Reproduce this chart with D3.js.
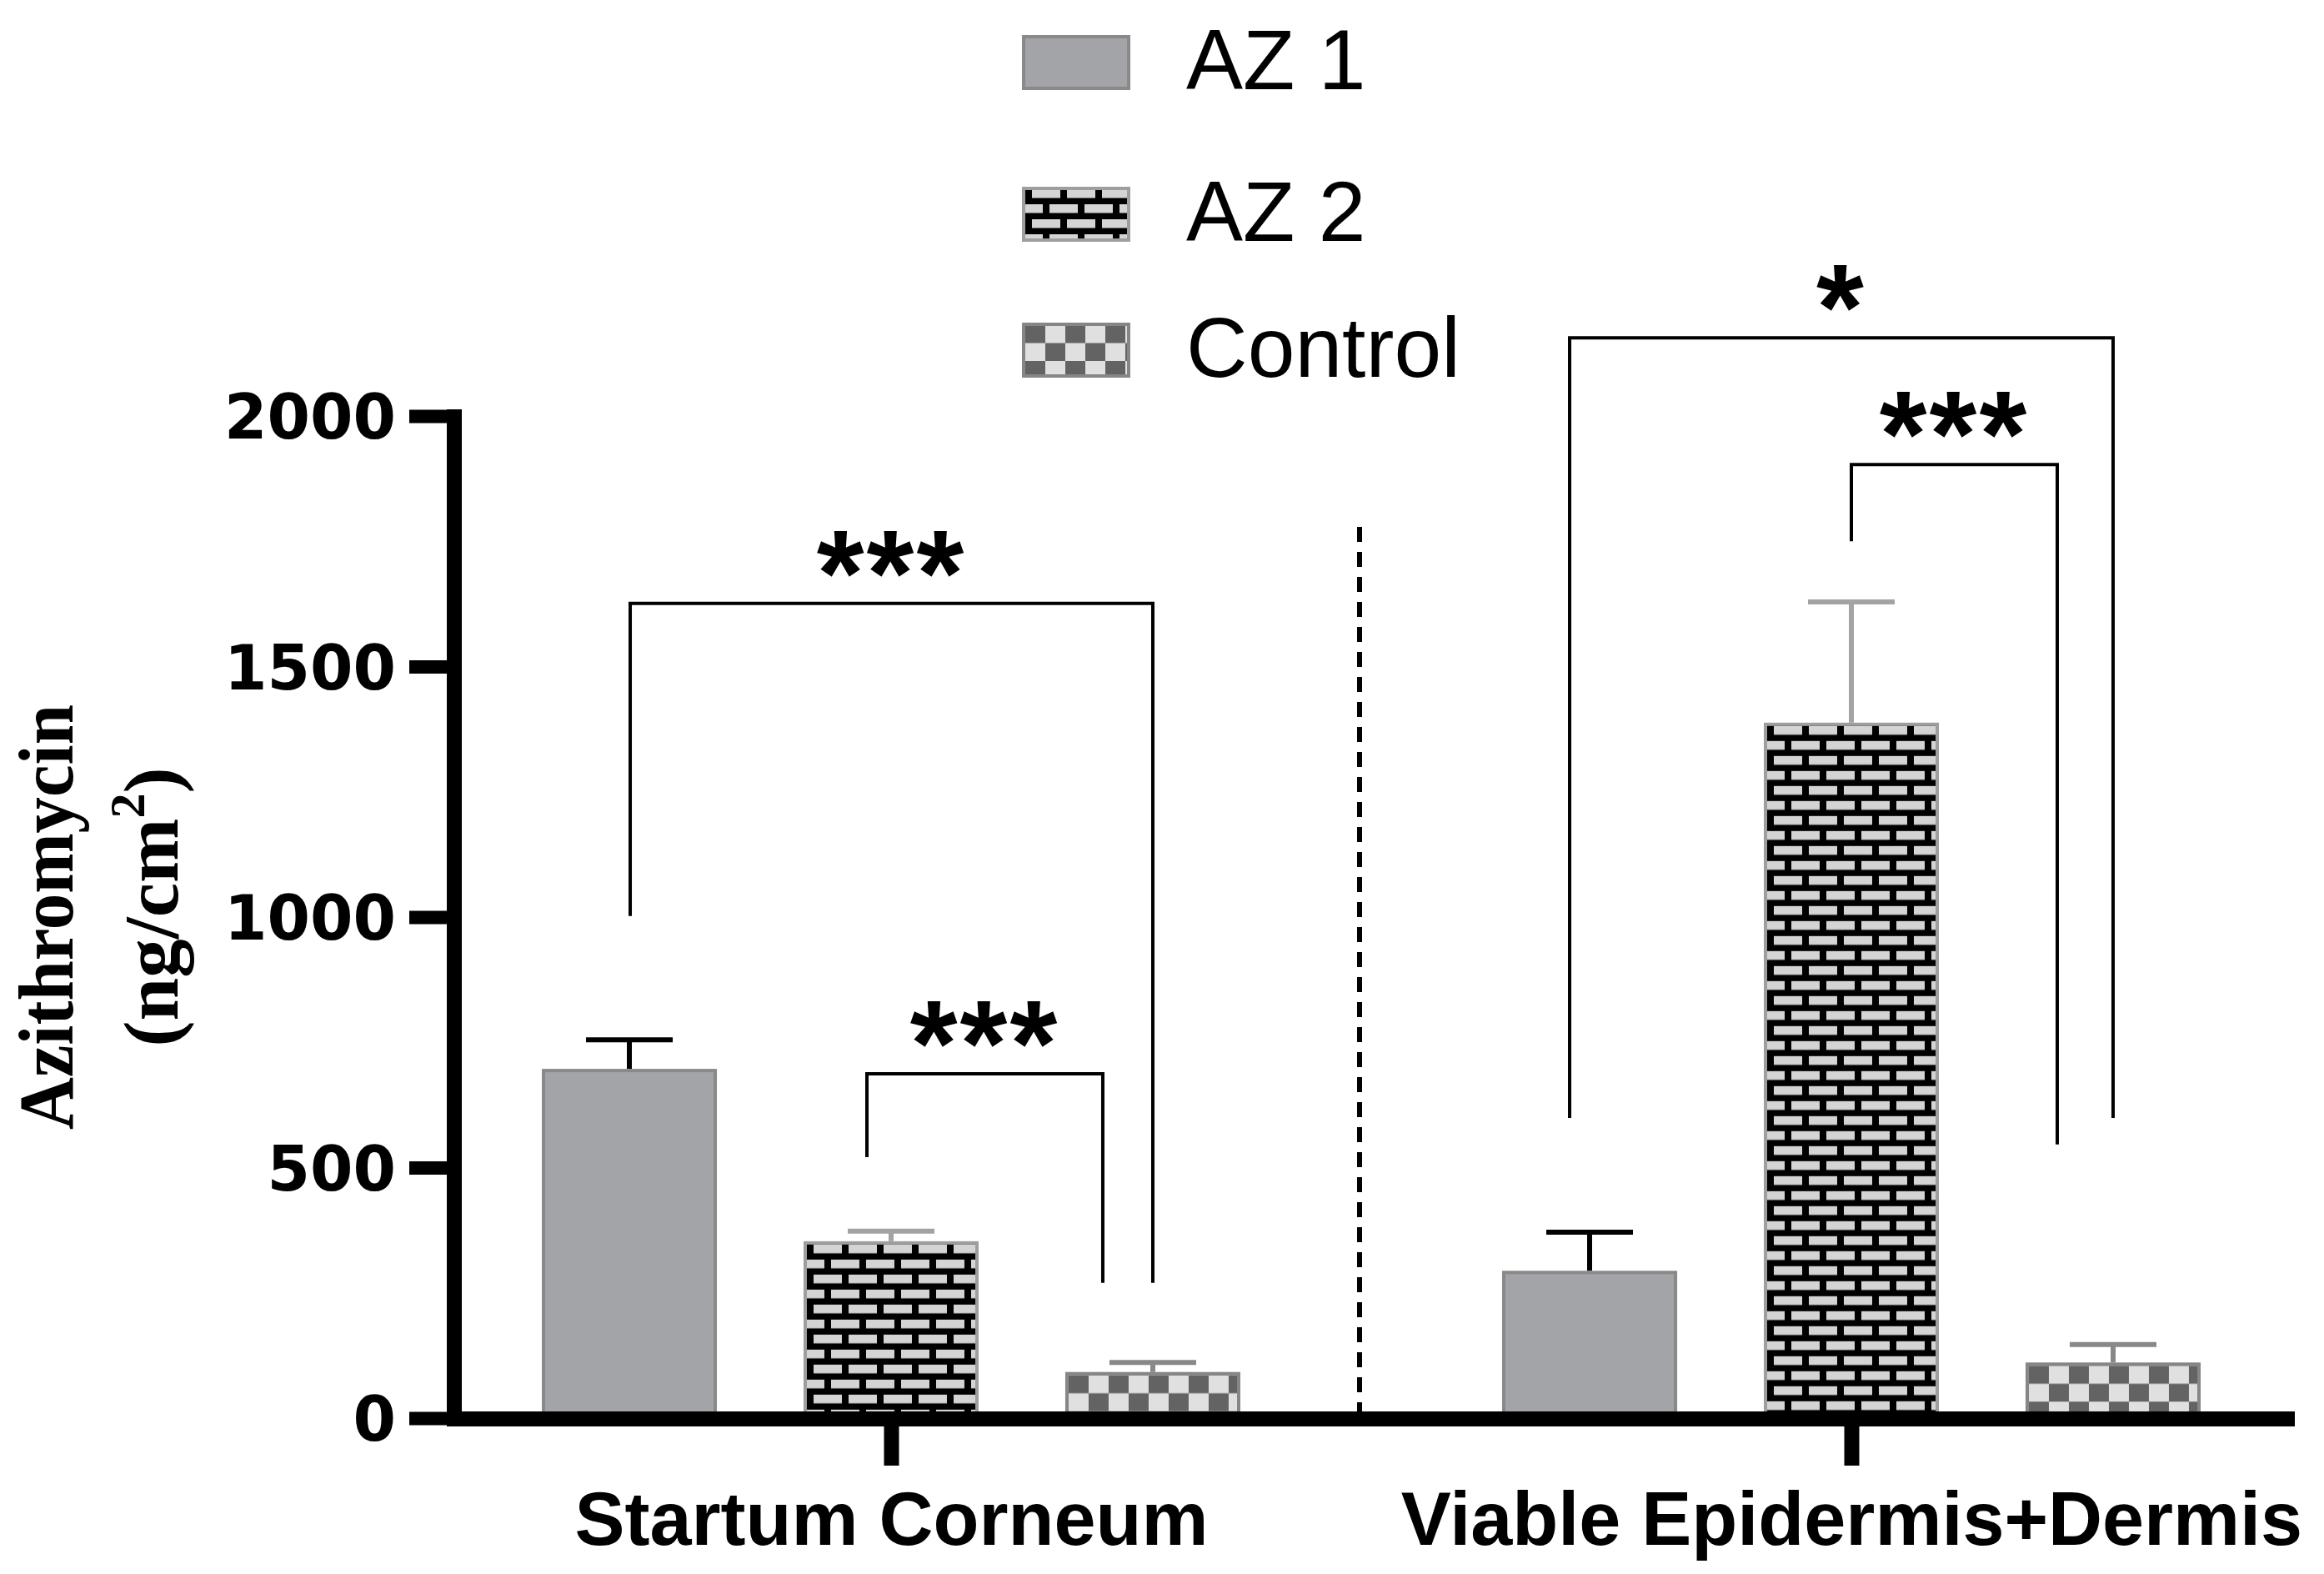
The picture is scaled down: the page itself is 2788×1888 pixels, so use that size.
<!DOCTYPE html>
<html>
<head>
<meta charset="utf-8">
<script src="https://cdn.jsdelivr.net/npm/d3@7"></script>
<style>
  html, body { margin: 0; padding: 0; background: #fff; }
  svg { display: block; }
</style>
</head>
<body>
<svg id="chart" width="2788" height="1888"></svg>
<script>
// ---------------- data ----------------
const categories = ["Startum Corneum", "Viable Epidermis+Dermis"];
const series = ["AZ 1", "AZ 2", "Control"];
const az1Values = [697, 294];
const az1Errors = [58, 77];
const az2Values = [353, 1388];
const az2Errors = [20, 241];
const controlValues = [92, 111];
const controlErrors = [19, 36];
const yTickValues = [0, 500, 1000, 1500, 2000];
// significance brackets (heights in data units)
const bracketCats   = [0, 0, 1, 1];
const bracketFrom   = ["AZ 1", "AZ 2", "AZ 1", "AZ 2"];
const bracketTo     = ["Control", "Control", "Control", "Control"];
const bracketTop    = [1626, 687, 2156, 1903];
const bracketLeftEnd  = [1002, 521, 599, 1750];
const bracketRightEnd = [270, 270, 599, 546];
const bracketLabels = ["***", "***", "*", "***"];

// ---------------- layout / style ----------------
const bracketLeftShift  = [1, -29, -24, 0];
const bracketRightShift = [0, -60, 0, -67];
const legendCenters = [75, 257, 420];

const svg = d3.select("#chart");
const defs = svg.append("defs");

const y = d3.scaleLinear().domain([0, 2000]).range([1701, 499]);
const x0 = d3.scalePoint().domain(categories).range([1069, 2221]);
const x1 = d3.scaleBand().domain(series).range([-419, 419]).paddingInner(0.331);

const valuesBySeries = { "AZ 1": az1Values, "AZ 2": az2Values, "Control": controlValues };
const errorsBySeries = { "AZ 1": az1Errors, "AZ 2": az2Errors, "Control": controlErrors };
const strokeBySeries = { "AZ 1": "#898989", "AZ 2": "#9e9e9e", "Control": "#868686" };
const errColorBySeries = { "AZ 1": "#000000", "AZ 2": "#a3a3a6", "Control": "#888888" };

function makeBrick(id, px, py) {
  const p = defs.append("pattern").attr("id", id)
    .attr("patternUnits", "userSpaceOnUse")
    .attr("x", px).attr("y", py).attr("width", 42).attr("height", 36);
  p.append("rect").attr("width", 42).attr("height", 36).attr("fill", "#000");
  const bricks = [[8, 0, 34], [29, 18, 13], [0, 18, 21]];
  bricks.forEach(b => p.append("rect").attr("x", b[0]).attr("y", b[1])
    .attr("width", b[2]).attr("height", 10.5).attr("fill", "#d4d4d4"));
}
function makeChecker(id, px, py) {
  const p = defs.append("pattern").attr("id", id)
    .attr("patternUnits", "userSpaceOnUse")
    .attr("x", px).attr("y", py).attr("width", 48).attr("height", 43);
  p.append("rect").attr("width", 48).attr("height", 43).attr("fill", "#e0e0e0");
  p.append("rect").attr("x", 0).attr("y", 0).attr("width", 24).attr("height", 21.5).attr("fill", "#636363");
  p.append("rect").attr("x", 24).attr("y", 21.5).attr("width", 24).attr("height", 21.5).attr("fill", "#636363");
}
function fillFor(s, id, px, py) {
  if (s === "AZ 1") return "#a3a4a7";
  if (s === "AZ 2") { makeBrick(id, px, py); return `url(#${id})`; }
  makeChecker(id, px, py); return `url(#${id})`;
}

// ---------------- bars ----------------
const barData = [];
categories.forEach((c, ci) => {
  series.forEach(s => {
    barData.push({ c, ci, s, v: valuesBySeries[s][ci], e: errorsBySeries[s][ci] });
  });
});

const gBars = svg.append("g");
// error bars
barData.forEach((d, i) => {
  const cx = x0(d.c) + x1(d.s) + x1.bandwidth() / 2;
  const col = errColorBySeries[d.s];
  gBars.append("line").attr("x1", cx).attr("x2", cx)
    .attr("y1", y(d.v)).attr("y2", y(d.v + d.e))
    .attr("stroke", col).attr("stroke-width", 6);
  gBars.append("line").attr("x1", cx - 52).attr("x2", cx + 52)
    .attr("y1", y(d.v + d.e)).attr("y2", y(d.v + d.e))
    .attr("stroke", col).attr("stroke-width", 6);
});
barData.forEach((d, i) => {
  const bx = x0(d.c) + x1(d.s);
  const by = y(d.v);
  const fill = fillFor(d.s, "pat" + i, bx + 4, by + 4);
  gBars.append("rect")
    .attr("x", bx + 2).attr("y", by + 2)
    .attr("width", x1.bandwidth() - 4)
    .attr("height", y(0) - by + 4)
    .attr("fill", fill)
    .attr("stroke", strokeBySeries[d.s]).attr("stroke-width", 4);
});

// ---------------- separator ----------------
svg.append("line").attr("x1", 1631).attr("x2", 1631)
  .attr("y1", 632).attr("y2", 1700)
  .attr("stroke", "#000").attr("stroke-width", 6)
  .attr("stroke-dasharray", "18,12");

// ---------------- axes ----------------
const yAxis = d3.axisLeft(y).tickValues(yTickValues).tickSize(54).tickPadding(16)
  .tickFormat(d3.format("d"));
const gy = svg.append("g").attr("transform", "translate(545,0)").call(yAxis);
gy.select(".domain").remove();
gy.selectAll(".tick line").attr("stroke", "#000").attr("stroke-width", 16);
gy.selectAll(".tick text")
  .attr("font-family", "'DejaVu Sans', sans-serif")
  .attr("font-weight", "bold").attr("font-size", 74)
  .attr("fill", "#000").attr("dy", "0.36em");
svg.append("line").attr("x1", 545).attr("x2", 545).attr("y1", 491).attr("y2", 1711)
  .attr("stroke", "#000").attr("stroke-width", 18);

const xAxis = d3.axisBottom(x0).tickSize(56).tickPadding(0);
const gx = svg.append("g").attr("transform", "translate(0,1702)").call(xAxis);
gx.select(".domain").remove();
gx.selectAll(".tick line").attr("stroke", "#000").attr("stroke-width", 18);
gx.selectAll(".tick text")
  .attr("font-family", "'Liberation Sans', Arial, sans-serif")
  .attr("font-weight", "bold").attr("font-size", 90)
  .attr("fill", "#000").attr("y", 151).attr("dy", 0);
svg.append("line").attr("x1", 536).attr("x2", 2753).attr("y1", 1702).attr("y2", 1702)
  .attr("stroke", "#000").attr("stroke-width", 18);

// y-axis title
svg.append("text")
  .attr("transform", "translate(87,1100) rotate(-90)")
  .attr("text-anchor", "middle")
  .attr("font-family", "'Liberation Serif', 'Times New Roman', serif")
  .attr("font-weight", "bold").attr("font-size", 93)
  .attr("textLength", 510).attr("lengthAdjust", "spacingAndGlyphs")
  .text("Azithromycin");
const t2 = svg.append("text")
  .attr("transform", "translate(213,1088) rotate(-90)")
  .attr("text-anchor", "middle")
  .attr("font-family", "'Liberation Serif', 'Times New Roman', serif")
  .attr("font-weight", "bold").attr("font-size", 93);
t2.append("tspan").text("(ng/cm");
t2.append("tspan").attr("font-size", 60).attr("dy", -40).text("2");
t2.append("tspan").attr("dy", 40).text(")");

// ---------------- significance brackets ----------------
const gSig = svg.append("g");
bracketLabels.forEach((lab, i) => {
  const c = categories[bracketCats[i]];
  const xl = x0(c) + x1(bracketFrom[i]) + x1.bandwidth() / 2 + bracketLeftShift[i];
  const xr = x0(c) + x1(bracketTo[i]) + x1.bandwidth() / 2 + bracketRightShift[i];
  const yt = y(bracketTop[i]);
  const path = d3.path();
  path.moveTo(xl, y(bracketLeftEnd[i]));
  path.lineTo(xl, yt);
  path.lineTo(xr, yt);
  path.lineTo(xr, y(bracketRightEnd[i]));
  gSig.append("path").attr("d", path.toString())
    .attr("fill", "none").attr("stroke", "#000").attr("stroke-width", 4);
  gSig.append("text")
    .attr("x", (xl + xr) / 2).attr("y", yt + 14)
    .attr("text-anchor", "middle")
    .attr("font-family", "'Liberation Sans', Arial, sans-serif")
    .attr("font-weight", "bold").attr("font-size", 146)
    .attr("letter-spacing", 3)
    .text(lab);
});

// ---------------- legend ----------------
const gLeg = svg.append("g");
series.forEach((s, i) => {
  const cy = legendCenters[i];
  const fill = fillFor(s, "legpat" + i, 1230, cy - 30);
  gLeg.append("rect").attr("x", 1228).attr("y", cy - 31)
    .attr("width", 126).attr("height", 62)
    .attr("fill", fill).attr("stroke", strokeBySeries[s]).attr("stroke-width", 4);
  gLeg.append("text").attr("x", 1423).attr("y", cy + 32)
    .attr("font-family", "'Liberation Sans', Arial, sans-serif")
    .attr("font-size", 102).attr("fill", "#000")
    .text(s);
});
</script>
</body>
</html>
